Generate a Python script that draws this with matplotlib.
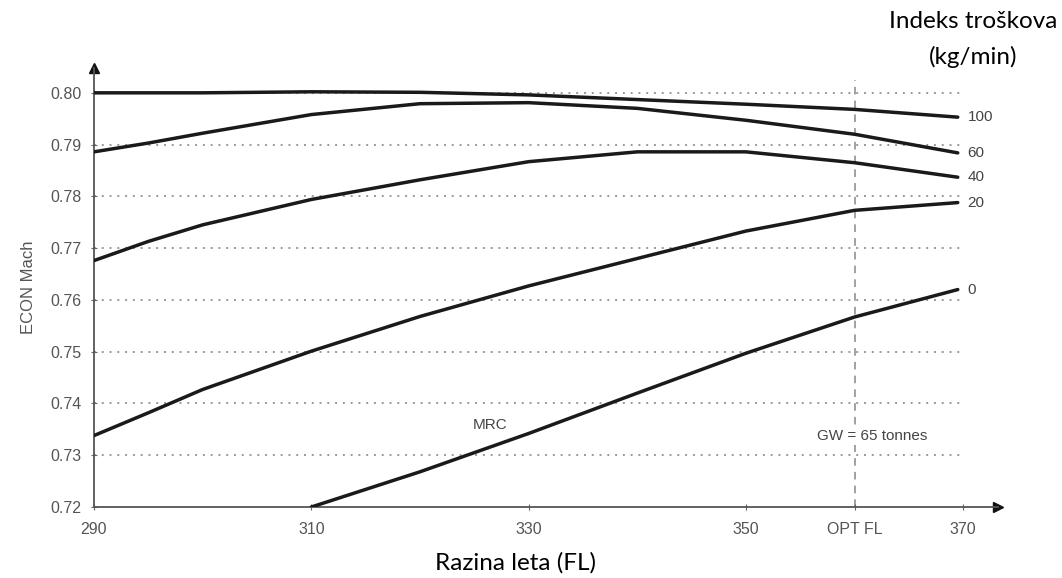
import matplotlib.pyplot as plt
import numpy as np

# flight level samples and ECON Mach per cost index
fl = [290, 295, 300, 310, 320, 330, 340, 350, 360, 369.5]
mach_100 = [0.8000, 0.8000, 0.8000, 0.8002, 0.8001, 0.7996, 0.7987, 0.7978, 0.7968, 0.7953]
mach_60 = [0.7886, 0.7903, 0.7922, 0.7958, 0.7979, 0.7981, 0.7970, 0.7947, 0.7920, 0.7884]
mach_40 = [0.7676, 0.7713, 0.7745, 0.7794, 0.7832, 0.7867, 0.7886, 0.7886, 0.7865, 0.7837]
mach_20 = [0.7338, 0.7382, 0.7427, 0.7501, 0.7568, 0.7627, 0.7680, 0.7733, 0.7773, 0.7788]

fl_0 = [310, 320, 330, 340, 350, 360, 369.5]
mach_0 = [0.7200, 0.7268, 0.7342, 0.7420, 0.7497, 0.7567, 0.7620]

curve_labels = ["100", "60", "40", "20", "0"]
x_ticks = [290, 310, 330, 350, 360, 370]
x_tick_labels = ["290", "310", "330", "350", "OPT FL", "370"]
y_ticks = [0.72, 0.73, 0.74, 0.75, 0.76, 0.77, 0.78, 0.79, 0.80]
opt_fl = 360

fig = plt.figure(figsize=(10.62, 5.78), dpi=100)
ax = fig.add_axes([0.0885, 0.1228, 0.8512, 0.7596])
ax.set_xlim(290, 373.2)
ax.set_ylim(0.72, 0.8048)

for s in ["top", "right"]:
    ax.spines[s].set_visible(False)
for s in ["left", "bottom"]:
    ax.spines[s].set_color("#555555")
    ax.spines[s].set_linewidth(1.3)

# arrow heads at axis ends
ax.plot(1, 0, ">", color="#111111", ms=7, transform=ax.transAxes, clip_on=False)
ax.plot(0, 1, "^", color="#111111", ms=7, transform=ax.transAxes, clip_on=False)

# dotted grid lines
for yv in y_ticks[1:]:
    ax.plot([290, 370], [yv, yv], linestyle=(0, (1, 3)), color="#999999", lw=1.4, zorder=1)

# OPT FL dashed line
ax.plot([opt_fl, opt_fl], [0.72, 0.8025], linestyle=(0, (5, 4)), color="#888888", lw=1.1, zorder=1)

series = [(fl, mach_100), (fl, mach_60), (fl, mach_40), (fl, mach_20), (fl_0, mach_0)]
for (xs, ys), lab in zip(series, curve_labels):
    ax.plot(xs, ys, color="#1a1a1a", lw=2.5, solid_capstyle="round",
            solid_joinstyle="round", zorder=3)
    ax.text(370.4, ys[-1], lab, fontsize=11, color="#444444", va="center", ha="left",
            family="Liberation Sans")

ax.set_xticks(x_ticks)
ax.set_xticklabels(x_tick_labels)
ax.set_yticks(y_ticks)
ax.set_yticklabels([f"{v:.2f}" for v in y_ticks])
ax.tick_params(axis="both", direction="inout", length=4, color="#666666",
               labelsize=11.5, labelcolor="#555555")
for t in ax.get_xticklabels() + ax.get_yticklabels():
    t.set_family("Liberation Sans")
ax.tick_params(axis="x", pad=9)
ax.tick_params(axis="y", pad=7)

ax.set_ylabel("ECON Mach", fontsize=12, color="#555555", family="Liberation Sans", labelpad=10)

ax.text(326.5, 0.7358, "MRC", fontsize=11, color="#444444", ha="center", va="center",
        family="Liberation Sans")
ax.text(361.6, 0.7337, "GW = 65 tonnes", fontsize=11, color="#444444", ha="center", va="center",
        family="Liberation Sans", zorder=4,
        bbox=dict(facecolor="white", edgecolor="none", pad=1.5))

fig.text(0.485, 0.008, "Razina leta (FL)", fontsize=17.5, ha="center", va="bottom", family="Lato")
fig.text(0.916, 0.962, "Indeks troškova", fontsize=17.5, ha="center", va="center", family="Lato")
fig.text(0.916, 0.902, "(kg/min)", fontsize=17.5, ha="center", va="center", family="Lato")

fig.savefig("out.png", dpi=100)
